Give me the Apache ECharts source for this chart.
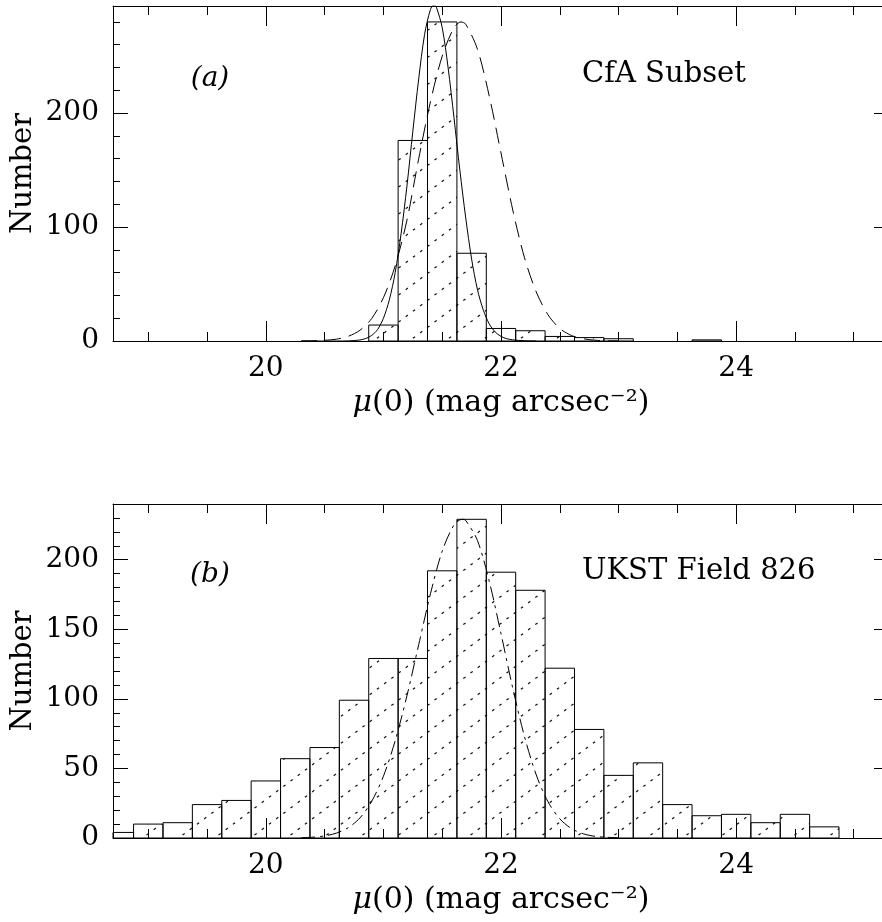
<!DOCTYPE html>
<html><head><meta charset="utf-8">
<script src="https://cdn.jsdelivr.net/npm/echarts@6/dist/echarts.min.js"></script>
<style>html,body{margin:0;padding:0;background:#fff}#c{width:882px;height:922px}</style>
</head><body><div id="c"></div>
<script>
// ---------- data ----------
const binWidth = 0.25;
const binsA   = [21.0, 21.25, 21.5, 21.75, 22.0, 22.25, 22.5, 22.75, 23.0, 23.75];
const countsA = [14,   176,   280,  77,    11,   9,     4,    3,     2,    1];
const binsB   = [18.75, 19.0, 19.25, 19.5, 19.75, 20.0, 20.25, 20.5, 20.75, 21.0, 21.25, 21.5, 21.75,
                 22.0, 22.25, 22.5, 22.75, 23.0, 23.25, 23.5, 23.75, 24.0, 24.25, 24.5, 24.75];
const countsB = [4, 10, 11, 24, 27, 41, 57, 65, 99, 129, 129, 192, 229,
                 191, 178, 122, 78, 45, 54, 24, 16, 17, 11, 17, 8];

const solidAx = [20.3, 20.5, 20.6, 20.7, 20.8, 20.85, 20.9, 20.95, 21.0, 21.05, 21.1, 21.15, 21.2, 21.25, 21.3, 21.35, 21.4, 21.43, 21.45, 21.5, 21.55, 21.6, 21.65, 21.7, 21.75, 21.8, 21.85, 21.9, 21.95, 22.0, 22.05, 22.1, 22.2, 22.3];
const solidAy = [0, 0, 0, 0.1, 0.9, 2.2, 4.9, 10, 20, 36, 60, 94, 136, 184, 230, 269, 291, 295, 293, 275, 240, 196, 150, 108, 72, 45, 27, 15, 8, 4, 2, 1, 0.2, 0];

const dashAx = [20.3, 20.4, 20.5, 20.6, 20.7, 20.8, 20.9, 21.0, 21.1, 21.2, 21.3, 21.4, 21.5, 21.6, 21.66, 21.7, 21.8, 21.9, 22.0, 22.1, 22.2, 22.3, 22.4, 22.5, 22.6, 22.7, 22.8, 22.9, 23.0];
const dashAy = [0.1, 0.2, 0.6, 1.6, 4.1, 9.4, 19.7, 38, 66, 106, 160, 210, 250, 275, 280, 278, 256, 215, 165, 115, 73, 43, 23, 11, 4.8, 2, 0.7, 0.2, 0.1];

const dashBx = [20.3, 20.4, 20.5, 20.6, 20.7, 20.8, 20.9, 21.0, 21.1, 21.2, 21.3, 21.4, 21.5, 21.6, 21.67, 21.7, 21.8, 21.9, 22.0, 22.1, 22.2, 22.3, 22.4, 22.5, 22.6, 22.7, 22.8, 22.9, 23.0];
const dashBy = [0.2, 0.6, 1.5, 3.5, 7.4, 14.4, 26.3, 44.4, 69.9, 102.2, 138.9, 175.5, 206.1, 224.9, 229, 228.2, 213.7, 184.5, 146.8, 107.7, 72.8, 45.3, 26, 13.8, 6.7, 3, 1.2, 0.5, 0.2];

const xRange = [18.7, 25.3];
const yRangeA = [0, 294];
const yRangeB = [0, 240];
const xMajorTicks = [20, 22, 24];
const xMinorTicks = [19, 19.5, 20.5, 21, 21.5, 22.5, 23, 23.5, 24.5, 25];
const yMajorTicksA = [0, 100, 200];
const yMinorTicksA = [20, 40, 60, 80, 120, 140, 160, 180, 220, 240, 260, 280];
const yMajorTicksB = [0, 50, 100, 150, 200];
const yMinorTicksB = [10, 20, 30, 40, 60, 70, 80, 90, 110, 120, 130, 140, 160, 170, 180, 190, 210, 220, 230];

const xTitle = '{i|μ}(0) (mag arcsec⁻²)';
const yTitle = 'Number';
const labelA = '(a)', nameA = 'CfA Subset';
const labelB = '(b)', nameB = 'UKST Field 826';

// ---------- rendering ----------
const F = '"DejaVu Serif", serif';
const BLACK = '#000';

function makeHatch() {
  const c = document.createElement('canvas');
  c.width = 36; c.height = 27;
  const g = c.getContext('2d');
  g.strokeStyle = '#111';
  g.lineWidth = 1.2;
  for (let i = 0; i < 5; i++) {
    const x = 3.6 + 7.2 * i, y = 27 - 0.75 * x;
    g.beginPath(); g.moveTo(x - 1.1, y + 0.8); g.lineTo(x + 1.1, y - 0.8); g.stroke();
  }
  return c;
}
const hatch = { image: makeHatch(), repeat: 'repeat' };

function zip(a, b) { return a.map((v, i) => [v, b[i]]); }

function histRender(params, api) {
  const c = api.value(0), v = api.value(1);
  const p0 = api.coord([c - binWidth / 2, v]);
  const p1 = api.coord([c + binWidth / 2, 0]);
  const cs = params.coordSys;
  const shape = echarts.graphic.clipRectByRect(
    { x: p0[0], y: p0[1], width: p1[0] - p0[0], height: p1[1] - p0[1] },
    { x: cs.x, y: cs.y, width: cs.width, height: cs.height });
  if (!shape) return;
  return { type: 'rect', shape: shape, style: { fill: hatch, stroke: BLACK, lineWidth: 1 } };
}

function xAxes(gridIndex) {
  const base = { type: 'value', gridIndex, min: xRange[0], max: xRange[1], splitLine: { show: false } };
  const ls = { color: BLACK, width: 1 };
  return [
    Object.assign({}, base, { position: 'bottom',
      axisLine: { show: true, onZero: false, lineStyle: ls },
      axisTick: { show: true, inside: true, length: 20, customValues: xMajorTicks, lineStyle: ls },
      axisLabel: { show: true, customValues: xMajorTicks, margin: 14, fontSize: 28, fontFamily: F, color: BLACK },
      name: xTitle, nameLocation: 'middle', nameGap: 47,
      nameTextStyle: { fontSize: 30, fontFamily: F, color: BLACK,
        rich: { i: { fontSize: 30, fontFamily: F, fontStyle: 'italic', color: BLACK } } } }),
    Object.assign({}, base, { position: 'bottom',
      axisLine: { show: false, onZero: false },
      axisTick: { show: true, inside: true, length: 9, customValues: xMinorTicks, lineStyle: ls },
      axisLabel: { show: false } }),
    Object.assign({}, base, { position: 'top',
      axisLine: { show: true, onZero: false, lineStyle: ls },
      axisTick: { show: true, inside: true, length: 20, customValues: xMajorTicks, lineStyle: ls },
      axisLabel: { show: false } }),
    Object.assign({}, base, { position: 'top',
      axisLine: { show: false, onZero: false },
      axisTick: { show: true, inside: true, length: 9, customValues: xMinorTicks, lineStyle: ls },
      axisLabel: { show: false } })
  ];
}

function yAxes(gridIndex, range, major, minor) {
  const base = { type: 'value', gridIndex, min: range[0], max: range[1], splitLine: { show: false } };
  const ls = { color: BLACK, width: 1 };
  return [
    Object.assign({}, base, { position: 'left',
      axisLine: { show: true, onZero: false, lineStyle: ls },
      axisTick: { show: true, inside: true, length: 15, customValues: major, lineStyle: ls },
      axisLabel: { show: true, customValues: major, margin: 14, fontSize: 28, fontFamily: F, color: BLACK } }),
    Object.assign({}, base, { position: 'left',
      axisLine: { show: false, onZero: false },
      axisTick: { show: true, inside: true, length: 7, customValues: minor, lineStyle: ls },
      axisLabel: { show: false } }),
    Object.assign({}, base, { position: 'right',
      axisLine: { show: true, onZero: false, lineStyle: ls },
      axisTick: { show: true, inside: true, length: 15, customValues: major, lineStyle: ls },
      axisLabel: { show: false } }),
    Object.assign({}, base, { position: 'right',
      axisLine: { show: false, onZero: false },
      axisTick: { show: true, inside: true, length: 7, customValues: minor, lineStyle: ls },
      axisLabel: { show: false } })
  ];
}

const chart = echarts.init(document.getElementById('c'), null, { renderer: 'canvas' });
const option = {
  animation: false,
  backgroundColor: '#fff',
  grid: [
    { left: 113, top: 6, width: 776, height: 335, outerBoundsMode: 'none', containLabel: false },
    { left: 113, top: 504, width: 776, height: 334, outerBoundsMode: 'none', containLabel: false }
  ],
  xAxis: xAxes(0).concat(xAxes(1)),
  yAxis: yAxes(0, yRangeA, yMajorTicksA, yMinorTicksA).concat(yAxes(1, yRangeB, yMajorTicksB, yMinorTicksB)),
  series: [
    { type: 'custom', xAxisIndex: 0, yAxisIndex: 0, data: zip(binsA, countsA), renderItem: histRender, z: 2, silent: true },
    { type: 'custom', xAxisIndex: 4, yAxisIndex: 4, data: zip(binsB, countsB), renderItem: histRender, z: 2, silent: true },
    { type: 'line', xAxisIndex: 0, yAxisIndex: 0, data: zip(solidAx, solidAy), showSymbol: false, smooth: 0.3, clip: true,
      lineStyle: { color: BLACK, width: 1, type: 'solid' }, z: 5, silent: true },
    { type: 'line', xAxisIndex: 0, yAxisIndex: 0, data: zip(dashAx, dashAy), showSymbol: false, smooth: 0.3, clip: true,
      lineStyle: { color: BLACK, width: 1, type: [16, 8] }, z: 5, silent: true },
    { type: 'line', xAxisIndex: 4, yAxisIndex: 4, data: zip(dashBx, dashBy), showSymbol: false, smooth: 0.3, clip: true,
      lineStyle: { color: BLACK, width: 1, type: [14, 5, 3, 5] }, z: 5, silent: true }
  ],
  graphic: [
    { type: 'text', x: 23, y: 173.5, rotation: Math.PI / 2, style: { text: yTitle, fontSize: 29, fontFamily: F, fill: BLACK, align: 'center', verticalAlign: 'middle' } },
    { type: 'text', x: 23, y: 671, rotation: Math.PI / 2, style: { text: yTitle, fontSize: 29, fontFamily: F, fill: BLACK, align: 'center', verticalAlign: 'middle' } },
    { type: 'text', x: 210, y: 79, style: { text: labelA, fontSize: 28, fontFamily: F, fontStyle: 'italic', fill: BLACK, align: 'center', verticalAlign: 'middle' } },
    { type: 'text', x: 582, y: 74, style: { text: nameA, fontSize: 29, fontFamily: F, fill: BLACK, align: 'left', verticalAlign: 'middle' } },
    { type: 'text', x: 210, y: 575, style: { text: labelB, fontSize: 28, fontFamily: F, fontStyle: 'italic', fill: BLACK, align: 'center', verticalAlign: 'middle' } },
    { type: 'text', x: 582, y: 571, style: { text: nameB, fontSize: 29, fontFamily: F, fill: BLACK, align: 'left', verticalAlign: 'middle' } }
  ]
};
chart.setOption(option);
</script>
</body></html>
